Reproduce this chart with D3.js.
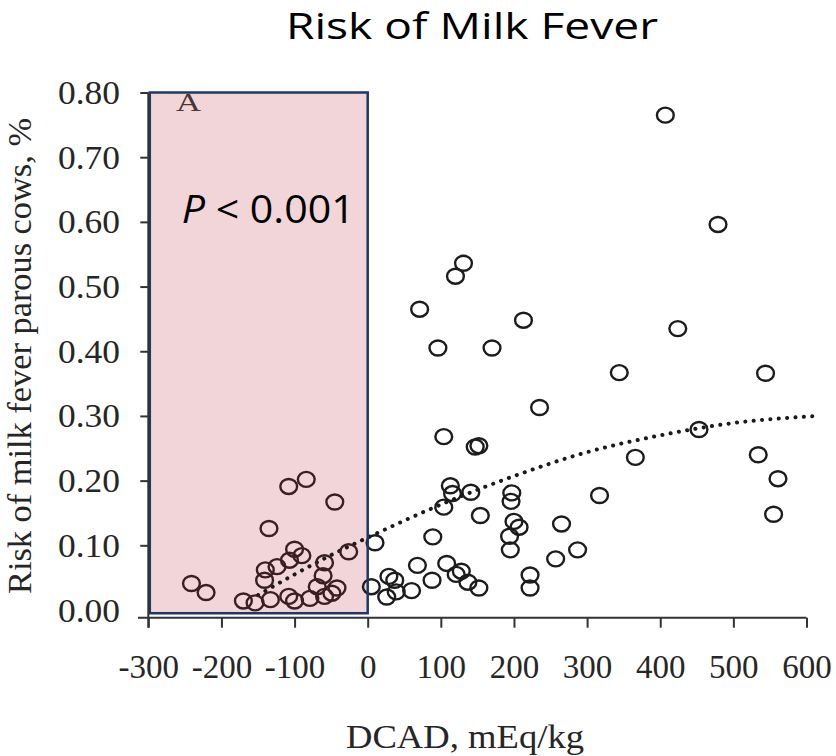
<!DOCTYPE html>
<html>
<head>
<meta charset="utf-8">
<script src="https://cdn.jsdelivr.net/npm/d3@7"></script>
<style>
  body { margin: 0; background: #fff; }
  svg { display: block; }
  .tick text { font-family: "Liberation Serif", "Times New Roman", serif; fill: #262626; }
</style>
</head>
<body>
<svg id="chart" width="836" height="756"></svg>
<script>

// DCAD (mEq/kg) and risk for each herd
var pointDcad = [
  -241, -221, -170, -154, -133, -108, -100, -79,
  -141, -140, -124, -107, -100, -90, -135, -108, -84, -45,
  -61, -59, -69, -59, -49, -42, -26,
  10, 5, 26, 29, 37, 39, 60, 68, 88, 89, 108, 121, 128, 137, 152,
  71, 96, 104, 104, 113, 116, 120, 131, 141, 147, 152, 154, 170,
  194, 195, 196, 197, 200, 207, 213, 222, 222, 235, 257, 265, 287,
  317, 344, 366, 407, 424, 453, 479, 534, 544, 555, 561
];
var pointRisk = [
  0.041, 0.027, 0.014, 0.011, 0.016, 0.021, 0.014, 0.018,
  0.046, 0.062, 0.067, 0.077, 0.094, 0.084, 0.126, 0.191, 0.202, 0.167,
  0.053, 0.073, 0.036, 0.021, 0.026, 0.034, 0.090,
  0.104, 0.036, 0.020, 0.052, 0.046, 0.028, 0.030, 0.069, 0.046, 0.113, 0.072, 0.055, 0.060, 0.043, 0.034,
  0.465, 0.405, 0.268, 0.159, 0.192, 0.180, 0.516, 0.536, 0.182, 0.252, 0.254, 0.146, 0.405,
  0.114, 0.093, 0.168, 0.181, 0.137, 0.128, 0.448, 0.054, 0.034, 0.313, 0.079, 0.133, 0.093,
  0.177, 0.367, 0.236, 0.765, 0.435, 0.279, 0.596, 0.240, 0.366, 0.148, 0.203
];

// dotted trend line
var trendDcad = [-150, -100, -50, 0, 100, 200, 300, 400, 500, 615];
var trendRisk = [0.023, 0.055, 0.085, 0.112, 0.163, 0.207, 0.244, 0.270, 0.289, 0.300];

var xTicks = [-300, -200, -100, 0, 100, 200, 300, 400, 500, 600];
var yTicks = [0, 0.1, 0.2, 0.3, 0.4, 0.5, 0.6, 0.7, 0.8];

// shaded region (DCAD below zero)
var boxDcad = [-300, 0];

var svg = d3.select('#chart'),
    x = d3.scaleLinear().domain([-300, 600]).range([148.3, 806.5]),
    y = d3.scaleLinear().domain([0, 0.8]).range([610, 92.5]),
    xAxisY = 617.7;

// title
svg.append('text')
    .attr('x', 472).attr('y', 39)
    .attr('text-anchor', 'middle')
    .attr('textLength', 372).attr('lengthAdjust', 'spacingAndGlyphs')
    .style('font-family', '"Open Sans", "Noto Sans", sans-serif')
    .style('font-size', '36px')
    .style('fill', '#000')
    .text('Risk of Milk Fever');

// pink box fill
svg.append('rect')
    .attr('x', x(boxDcad[0]) + 1.5)
    .attr('y', y(0.8))
    .attr('width', x(boxDcad[1]) - x(boxDcad[0]) - 1.5)
    .attr('height', y(-0.005) - y(0.8))
    .style('fill', '#f2d5d8');

// trend line
var line = d3.line()
    .x(function(d, i) { return x(trendDcad[i]); })
    .y(function(d, i) { return y(trendRisk[i]); })
    .curve(d3.curveMonotoneX);

svg.append('path')
    .datum(trendDcad)
    .attr('d', line)
    .style('fill', 'none')
    .style('stroke', '#1a1a1a')
    .style('stroke-width', 4)
    .style('stroke-linecap', 'round')
    .style('stroke-dasharray', '0.1 8.3');

// points
svg.append('g').selectAll('ellipse')
    .data(pointDcad)
  .enter().append('ellipse')
    .attr('cx', function(d) { return x(d); })
    .attr('cy', function(d, i) { return y(pointRisk[i]); })
    .attr('rx', 8.4)
    .attr('ry', 7.5)
    .style('fill', 'none')
    .style('stroke', function(d) { return d < 0 ? '#3b1e22' : '#1c1c1c'; })
    .style('stroke-width', 2.4);

// box outline on top
svg.append('rect')
    .attr('x', x(boxDcad[0]) + 1.5)
    .attr('y', y(0.8))
    .attr('width', x(boxDcad[1]) - x(boxDcad[0]) - 1.5)
    .attr('height', y(-0.005) - y(0.8))
    .style('fill', 'none')
    .style('stroke', '#1f3864')
    .style('stroke-width', 2.5);

svg.append('text')
    .attr('x', 176).attr('y', 111)
    .attr('textLength', 25).attr('lengthAdjust', 'spacingAndGlyphs')
    .style('font-family', '"Liberation Serif", serif')
    .style('font-size', '25px')
    .style('fill', '#4a3535')
    .text('A');

var pText = svg.append('text')
    .attr('x', 181.7).attr('y', 223.3)
    .attr('textLength', 173).attr('lengthAdjust', 'spacingAndGlyphs')
    .style('font-family', '"Open Sans", "Noto Sans", sans-serif')
    .style('font-size', '38px')
    .style('fill', '#000');
pText.append('tspan').style('font-style', 'italic').text('P');
pText.append('tspan').text(' < 0.001');

// x axis
var xAxis = svg.append('g')
    .attr('transform', 'translate(0,' + xAxisY + ')')
    .call(d3.axisBottom(x).tickValues(xTicks).tickSize(10).tickSizeOuter(0)
      .tickFormat(function(d) { return String(d); }));
xAxis.select('.domain').remove();
xAxis.selectAll('.tick line').style('stroke', '#333').style('stroke-width', 2);
xAxis.selectAll('.tick text')
    .attr('y', 60.6).attr('dy', 0)
    .style('font-size', '33px');

svg.append('line')
    .attr('x1', 138).attr('x2', x(600))
    .attr('y1', xAxisY).attr('y2', xAxisY)
    .style('stroke', '#333').style('stroke-width', 2);

// y axis
var yAxis = svg.append('g')
    .attr('transform', 'translate(' + x(-300) + ',0)')
    .call(d3.axisLeft(y).tickValues(yTicks).tickSize(8).tickSizeOuter(0)
      .tickFormat(d3.format('.2f')));
yAxis.select('.domain').remove();
yAxis.selectAll('.tick line').style('stroke', '#333').style('stroke-width', 2);
yAxis.selectAll('.tick').filter(function(d) { return d === 0; }).select('line').remove();
yAxis.selectAll('.tick text')
    .attr('x', -28.3).attr('dy', 11)
    .attr('textLength', 62).attr('lengthAdjust', 'spacingAndGlyphs')
    .style('font-size', '33px');

svg.append('line')
    .attr('x1', x(-300)).attr('x2', x(-300))
    .attr('y1', y(0.8)).attr('y2', xAxisY + 10)
    .style('stroke', '#333').style('stroke-width', 2);

// axis titles
svg.append('text')
    .attr('transform', 'translate(31,356) rotate(-90)')
    .attr('text-anchor', 'middle')
    .attr('textLength', 476).attr('lengthAdjust', 'spacingAndGlyphs')
    .style('font-family', '"Liberation Serif", serif')
    .style('font-size', '33px')
    .style('fill', '#262626')
    .text('Risk of milk fever parous cows, %');

svg.append('text')
    .attr('x', 465).attr('y', 748)
    .attr('text-anchor', 'middle')
    .attr('textLength', 238).attr('lengthAdjust', 'spacingAndGlyphs')
    .style('font-family', '"Liberation Serif", serif')
    .style('font-size', '33px')
    .style('fill', '#262626')
    .text('DCAD, mEq/kg');

</script>
</body>
</html>
